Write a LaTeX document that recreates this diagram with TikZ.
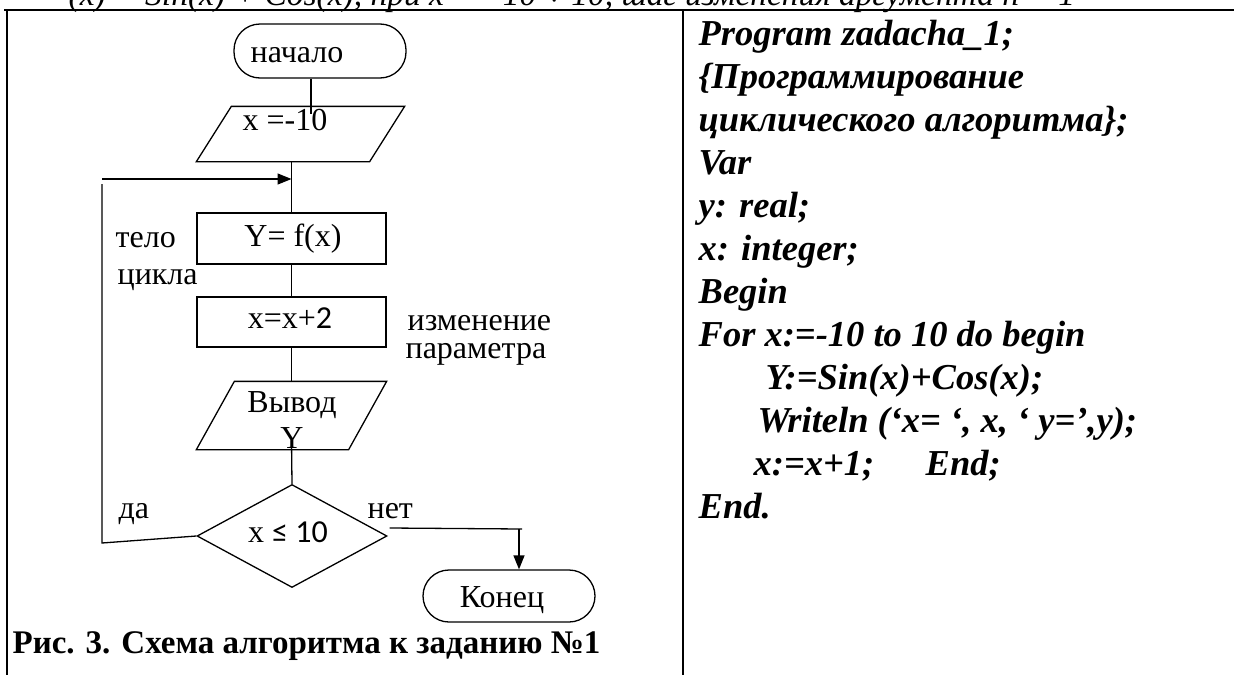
\documentclass[tikz,border=0pt]{standalone}
\usepackage{fontspec}
\setmainfont{Liberation Serif}
\newfontfamily\calib{Carlito}
\usetikzlibrary{shapes.geometric,arrows.meta}
\begin{document}
\begin{tikzpicture}[x=1pt,y=-1pt,line width=1.3pt,
  txt/.style={anchor=base,inner sep=0pt,font=\fontsize{32}{36}\selectfont},
  side/.style={anchor=base west,inner sep=0pt,font=\fontsize{32}{36}\selectfont},
  code/.style={anchor=base west,inner sep=0pt,font=\fontsize{36.5}{42}\selectfont\bfseries\itshape},
  term/.style={draw,rectangle,rounded corners=26pt,minimum width=172pt,minimum height=54pt,inner sep=0pt},
  proc/.style={draw,rectangle,minimum width=189pt,minimum height=51pt,inner sep=0pt},
  iobox/.style={rectangle,inner sep=0pt},
  decis/.style={draw,diamond,minimum width=190pt,minimum height=103pt,inner sep=0pt},
  arr/.style={-{Triangle[length=14pt,width=11pt]}},
  frame/.style={line width=2.6pt}]
\useasboundingbox (0,0) rectangle (1234,675);
\clip (0,0) rectangle (1234,675);
\fill[white] (0,0) rectangle (1234,675);

% cut top line of text
\node[anchor=base west,inner sep=0pt,font=\fontsize{33.5}{40}\selectfont\itshape] (toptext) at (68,5.5)
  {(x) = Sin(x) + Cos(x), при x = $-$10 ÷ 10, шаг изменения аргумента h = 1};

% table frame
\draw[frame] (4,10) -- (1234,10);
\draw[frame] (7,10) -- (7,675);
\draw[frame] (683,10) -- (683,675);

% flowchart shapes
\node[term] (start) at (320,51) {};
\node[txt] (tstart) at (297,62) {начало};
\node[iobox,minimum width=172pt,minimum height=54pt] (init) at (300.5,134) {};
\draw ([xshift=17.5pt]init.north west) -- ([xshift=17.5pt]init.north east)
   -- ([xshift=-17.5pt]init.south east) -- ([xshift=-17.5pt]init.south west) -- cycle;
\node[txt] (tinit) at (285,130) {x =-10};
\node[proc] (body) at (291.5,238.5) {};
\node[txt] (tbody) at (293,246) {Y= f(x)};
\node[proc,minimum height=50pt] (step) at (291.5,322) {};
\node[txt] (tstep) at (290,328) {x=x+{\calib 2}};
\node[iobox,minimum width=151pt,minimum height=67pt] (out) at (291.5,415.5) {};
\draw ([xshift=19pt]out.north west) -- ([xshift=19pt]out.north east)
   -- ([xshift=-19pt]out.south east) -- ([xshift=-19pt]out.south west) -- cycle;
\node[txt] (tout1) at (292,412) {Вывод};
\node[txt] (tout2) at (292,448) {Y};
\node[decis] (dec) at (292,536) {};
\node[txt] (tdec) at (288,542) {x {\calib ≤ 10}};
\node[term,minimum height=52pt] (fin) at (509,596) {};
\node[txt] (tfin) at (502,607) {Конец};

% side labels
\node[side] (l1) at (115,247) {тело};
\node[side] (l2) at (117,284) {цикла};
\node[side] (l3) at (407,330) {изменение};
\node[side] (l4) at (405,358) {параметра};
\node[side] (yes) at (118,518) {да};
\node[side] (no) at (367,518) {нет};

% connectors
\draw ([xshift=-9pt]start.south) -- ([xshift=-9pt,yshift=-8pt]start.south |- init.north);
\draw (body.north |- init.south) -- (body.north);
\coordinate (loopA) at (102,179);
\coordinate (loopB) at (102,543);
\coordinate (loopC) at (102,184);
\draw[arr] (loopA) -- (loopA -| body.north);
\draw (dec.west) -- (loopB) -- (loopC);
\draw (body.south) -- (step.north);
\draw (step.south) -- (out.north);
\draw ([yshift=9pt]out.south) -- (dec.north);
\coordinate (noR) at (522,529);
\draw ([xshift=2pt,yshift=8pt]dec.east) -- (noR);
\draw[arr] ([xshift=10pt]fin.north |- noR) -- ([xshift=10pt]fin.north);

% caption
\node[anchor=base west,inner sep=0pt,font=\fontsize{33}{38}\selectfont\bfseries] (cap) at (12,653)
  {Рис. 3. Схема алгоритма к заданию №1};

% program text
\node[code] (c0) at (698,45) {Program zadacha\_1;};
\node[code] (c1) at (698,88) {\{Программирование};
\node[code] (c2) at (698,131) {циклического алгоритма\};};
\node[code] (c3) at (698,174) {Var};
\node[code] (c4) at (698,217) {y: real;};
\node[code] (c5) at (698,260) {x: integer;};
\node[code] (c6) at (698,303) {Begin};
\node[code] (c7) at (698,346) {For x:=-10 to 10 do begin};
\node[code] (c8) at (765,389) {Y:=Sin(x)+Cos(x);};
\node[code] (c9) at (757,432) {Writeln (‘x= ‘, x, ‘ y=’,y);};
\node[code] (c10) at (753,475) {x:=x+1;};
\node[code] (c10b) at (925,475) {End;};
\node[code] (c11) at (698,518) {End.};
\end{tikzpicture}
\end{document}
